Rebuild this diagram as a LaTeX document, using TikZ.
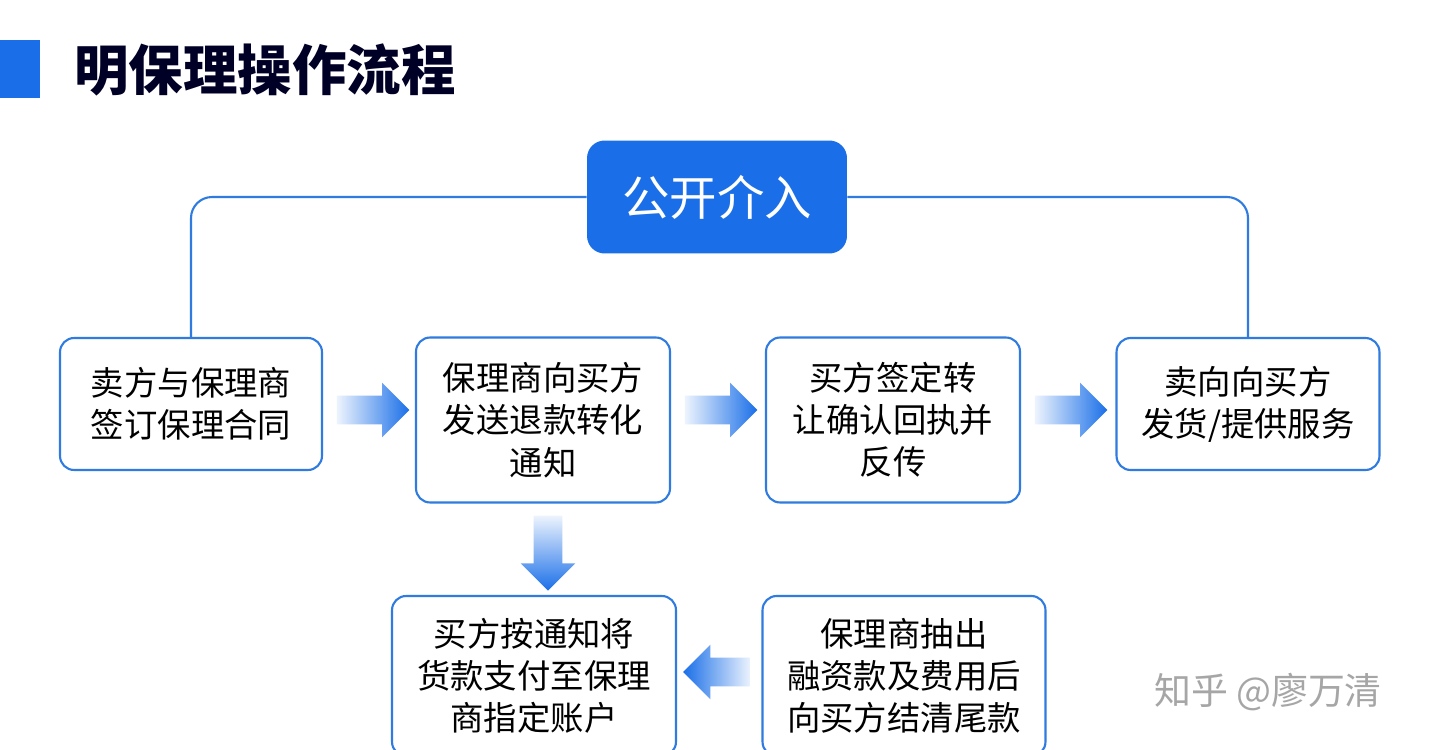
\documentclass[tikz,border=0pt]{standalone}
\usepackage{fontspec}
\setmainfont{Noto Sans CJK SC}
\usetikzlibrary{positioning,shapes.arrows}
\definecolor{mainblue}{HTML}{1A6FE8}
\definecolor{lineblue}{HTML}{2F7BE0}
\begin{document}
\begin{tikzpicture}[x=0.02cm,y=-0.02cm]
    \tikzstyle{stage}=[draw=lineblue,line width=1.2pt,rounded corners=8pt,fill=white,
        align=center,font=\fontsize{19}{24}\selectfont,inner sep=0pt]
    \tikzstyle{flow}=[single arrow,minimum height=1.45cm,inner xsep=0pt,inner ysep=0.28cm,
        single arrow head extend=0.26cm,single arrow head indent=0cm,draw=none]

    \useasboundingbox (0,0) rectangle (1440,750);
    \fill[white] (0,0) rectangle (1440,750);

    % title
    \fill[mainblue] (0,40) rectangle (40,98);
    \node[anchor=west,font=\fontsize{31}{31}\selectfont\bfseries,text=black!85!blue] (title) at (68,70) {明保理操作流程};

    % boxes
    \node[fill=mainblue,rounded corners=10pt,minimum width=5.2cm,minimum height=2.26cm,
        text=white,font=\fontsize{27}{27}\selectfont] (open) at (717,197) {公开介入};
    \node[stage,minimum width=5.24cm,minimum height=2.64cm] (sign) at (191,404) {卖方与保理商\\签订保理合同};
    \node[stage,minimum width=5.08cm,minimum height=3.3cm] (notify) at (543,420) {保理商向买方\\发送退款转化\\通知};
    \node[stage,minimum width=5.08cm,minimum height=3.3cm] (confirm) at (893,420) {买方签定转\\让确认回执并\\反传};
    \node[stage,minimum width=5.26cm,minimum height=2.64cm] (ship) at (1248,404) {卖向向买方\\发货/提供服务};
    \node[stage,minimum width=5.68cm,minimum height=3.2cm] (pay) at (534,676) {买方按通知将\\货款支付至保理\\商指定账户};
    \node[stage,minimum width=5.66cm,minimum height=3.2cm] (settle) at (904,676) {保理商抽出\\融资款及费用后\\向买方结清尾款};

    % connectors
    \draw[lineblue,line width=1.2pt,rounded corners=12pt]
        (open.west |- 0,197) -| (sign.north);
    \draw[lineblue,line width=1.2pt,rounded corners=12pt]
        (open.east |- 0,197) -| (ship.north);

    % block arrows
    \node[flow,left color=mainblue!8,right color=mainblue] (a1) at (366,410) {};
    \node[flow,left color=mainblue!8,right color=mainblue] (a2) at (714,410) {};
    \node[flow,left color=mainblue!8,right color=mainblue] (a3) at (1064,410) {};
    \node[flow,rotate=-90,minimum height=1.5cm,top color=mainblue!8,bottom color=mainblue] (a4) at (548,546) {};
    \node[flow,shape border rotate=180,minimum height=1.35cm,left color=mainblue,right color=mainblue!8] (a5) at (724,672) {};

    % watermark
    \node[text=black!35,font=\fontsize{21}{21}\selectfont] (mark) at (1268,692) {知乎 @廖万清};
\end{tikzpicture}
\end{document}
